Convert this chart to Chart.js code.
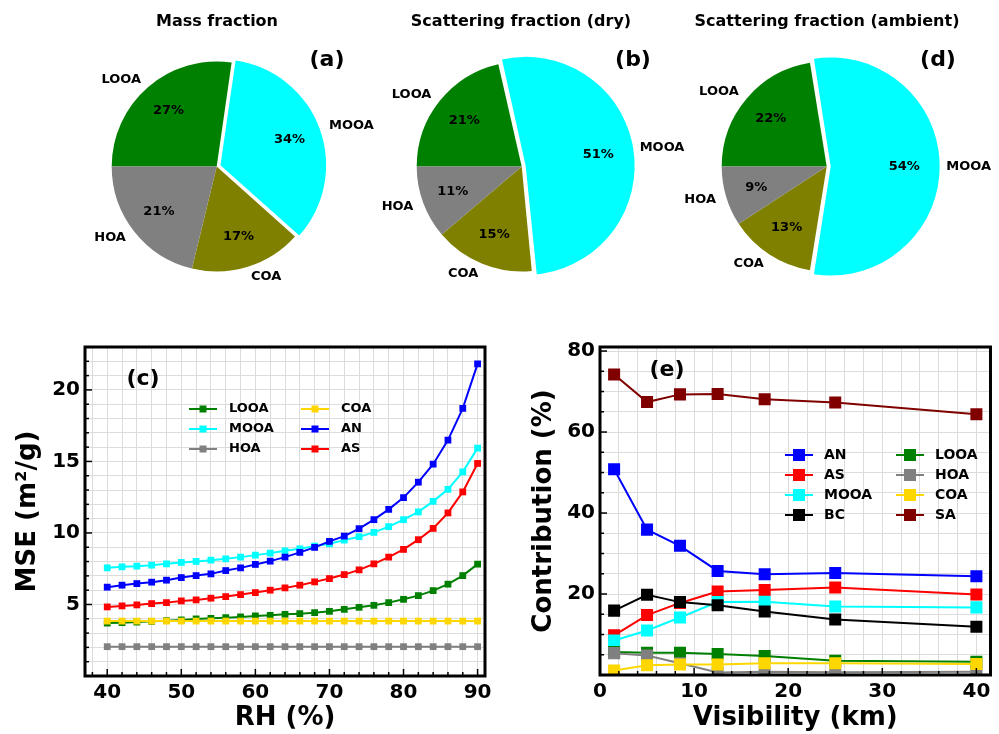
<!DOCTYPE html>
<html>
<head>
<meta charset="utf-8">
<script src="https://cdn.jsdelivr.net/npm/chart.js@4.4.1/dist/chart.umd.min.js"></script>
<style>
  body { margin: 0; background: #fff; }
  #wrap { position: relative; width: 999px; height: 734px; overflow: hidden; }
  canvas { position: absolute; }
</style>
</head>
<body>
<div id="wrap">
  <canvas id="pieA" style="left:0;top:0" width="999" height="300"></canvas>
  <canvas id="pieB" style="left:0;top:0" width="999" height="300"></canvas>
  <canvas id="pieD" style="left:0;top:0" width="999" height="300"></canvas>
  <canvas id="mse" style="left:0;top:330px" width="500" height="404"></canvas>
  <canvas id="contrib" style="left:510px;top:330px" width="489" height="404"></canvas>
</div>
<script>
// pie data
const pieLabels = ['LOOA', 'MOOA', 'COA', 'HOA'];
const massFraction = [27, 34, 17, 21];
const scatDry = [21, 51, 15, 11];
const scatAmbient = [22, 54, 13, 9];

// (c) MSE vs RH
const rh = [40, 42, 44, 46, 48, 50, 52, 54, 56, 58, 60, 62, 64, 66, 68, 70, 72, 74, 76, 78, 80, 82, 84, 86, 88, 90];
const mseLOOA = [3.70, 3.73, 3.77, 3.82, 3.87, 3.92, 3.99, 4.03, 4.08, 4.13, 4.20, 4.24, 4.31, 4.36, 4.43, 4.52, 4.66, 4.80, 4.94, 5.13, 5.36, 5.62, 5.97, 6.42, 7.02, 7.82];
const mseMOOA = [7.56, 7.63, 7.68, 7.75, 7.84, 7.94, 8.01, 8.10, 8.19, 8.31, 8.45, 8.59, 8.75, 8.89, 9.08, 9.24, 9.50, 9.74, 10.04, 10.44, 10.93, 11.47, 12.21, 13.05, 14.27, 15.93];
const mseHOA = [2.05, 2.05, 2.05, 2.05, 2.05, 2.05, 2.05, 2.05, 2.05, 2.05, 2.05, 2.05, 2.05, 2.05, 2.05, 2.05, 2.05, 2.05, 2.05, 2.05, 2.05, 2.05, 2.05, 2.05, 2.05, 2.05];
const mseCOA = [3.84, 3.84, 3.84, 3.84, 3.84, 3.84, 3.84, 3.84, 3.84, 3.84, 3.84, 3.84, 3.84, 3.84, 3.84, 3.84, 3.84, 3.84, 3.84, 3.84, 3.84, 3.84, 3.84, 3.84, 3.84, 3.84];
const mseAN = [6.21, 6.35, 6.46, 6.56, 6.70, 6.88, 7.02, 7.14, 7.37, 7.56, 7.80, 8.03, 8.31, 8.64, 8.99, 9.41, 9.78, 10.30, 10.93, 11.65, 12.47, 13.55, 14.81, 16.49, 18.71, 21.82];
const mseAS = [4.83, 4.90, 4.97, 5.06, 5.13, 5.25, 5.32, 5.44, 5.55, 5.69, 5.83, 6.00, 6.16, 6.35, 6.58, 6.81, 7.09, 7.42, 7.84, 8.31, 8.85, 9.53, 10.32, 11.40, 12.87, 14.86];

// (e) contribution vs visibility
const visibility = [1.5, 5, 8.5, 12.5, 17.5, 25, 40];
const conAN = [50.8, 35.9, 31.9, 25.7, 24.9, 25.2, 24.4];
const conAS = [9.8, 14.8, 17.8, 20.6, 21.0, 21.6, 19.9];
const conMOOA = [8.5, 11.0, 14.2, 18.0, 18.1, 16.9, 16.7];
const conBC = [15.9, 19.8, 18.0, 17.2, 15.7, 13.7, 11.9];
const conLOOA = [5.7, 5.5, 5.5, 5.2, 4.7, 3.5, 3.3];
const conHOA = [5.4, 4.8, 2.9, 0.6, 0.8, 0.7, 0.8];
const conCOA = [1.1, 2.4, 2.6, 2.6, 2.9, 2.9, 2.7];
const conSA = [74.2, 67.4, 69.3, 69.4, 68.1, 67.3, 64.4];

const FONT = '"DejaVu Sans", sans-serif';
const pieColors = ['#008000', '#00ffff', '#808000', '#808080'];

// labels outside and percentages inside the wedges, plus the panel title
const pieText = {
    id: 'pieText',
    afterDatasetsDraw(chart, args, opts) {
        const ctx = chart.ctx;
        const ds = chart.data.datasets[0];
        ctx.save();
        ctx.fillStyle = '#000';
        ctx.textBaseline = 'middle';
        chart.getDatasetMeta(0).data.forEach((arc, i) => {
            const mid = (arc.startAngle + arc.endAngle) / 2;
            const off = (ds.offset[i] || 0) / 4;
            const cx = arc.x + Math.cos(mid) * off;
            const cy = arc.y + Math.sin(mid) * off;
            const r = arc.outerRadius;
            ctx.font = 'bold 13px ' + FONT;
            ctx.textAlign = 'center';
            ctx.fillText(ds.data[i] + '%', cx + Math.cos(mid) * r * 0.7, cy + Math.sin(mid) * r * 0.7);
            ctx.textAlign = Math.cos(mid) >= 0 ? 'left' : 'right';
            ctx.fillText(chart.data.labels[i], cx + Math.cos(mid) * r * 1.1, cy + Math.sin(mid) * r * 1.1);
        });
        ctx.textAlign = 'center';
        ctx.font = 'bold 16px ' + FONT;
        ctx.fillText(opts.title, opts.titleX, 22);
        ctx.font = 'bold 22px ' + FONT;
        ctx.fillText(opts.tag, opts.tagX, 60);
        ctx.restore();
    }
};

function makePie(id, values, padding, title, titleX, tag, tagX) {
    new Chart(document.getElementById(id), {
        type: 'pie',
        data: {
            labels: pieLabels,
            datasets: [{
                data: values,
                backgroundColor: pieColors,
                borderWidth: 0,
                offset: [0, 16, 0, 0]
            }]
        },
        options: {
            responsive: false,
            animation: false,
            events: [],
            radius: 105,
            rotation: 270,
            layout: { padding: padding },
            plugins: {
                legend: { display: false },
                tooltip: { enabled: false },
                pieText: { title: title, titleX: titleX, tag: tag, tagX: tagX }
            }
        },
        plugins: [pieText]
    });
}

makePie('pieA', massFraction, { left: 0, right: 565.6, top: 33, bottom: 0 }, 'Mass fraction', 217, '(a)', 327);
makePie('pieB', scatDry, { left: 44.4, right: 0, top: 33, bottom: 0 }, 'Scattering fraction (dry)', 521, '(b)', 633);
makePie('pieD', scatAmbient, { left: 654.4, right: 0, top: 33, bottom: 0 }, 'Scattering fraction (ambient)', 827, '(d)', 938);

// frame, inward ticks, panel letter and two-column legend
const frameTicks = {
    id: 'frameTicks',
    afterDraw(chart, args, opts) {
        const { ctx, chartArea: a, scales: { x, y } } = chart;
        ctx.save();
        ctx.strokeStyle = '#000';
        ctx.lineWidth = 1.5;
        x.ticks.forEach(t => {
            const px = x.getPixelForValue(t.value);
            const len = t.value % opts.xMajor === 0 ? 7 : 4;
            ctx.beginPath();
            ctx.moveTo(px, a.bottom);
            ctx.lineTo(px, a.bottom - len);
            ctx.stroke();
        });
        y.ticks.forEach(t => {
            const py = y.getPixelForValue(t.value);
            const len = t.value % opts.yMajor === 0 ? 7 : 4;
            ctx.beginPath();
            ctx.moveTo(a.left, py);
            ctx.lineTo(a.left + len, py);
            ctx.stroke();
        });
        ctx.lineWidth = 3;
        ctx.strokeRect(a.left, a.top, a.right - a.left, a.bottom - a.top);

        ctx.fillStyle = '#000';
        ctx.textBaseline = 'middle';
        ctx.textAlign = 'center';
        ctx.font = 'bold 22px ' + FONT;
        ctx.fillText(opts.tag, a.left + opts.tagX, a.top + opts.tagY);

        const lg = opts.legend;
        ctx.font = 'bold ' + lg.fontSize + 'px ' + FONT;
        ctx.textAlign = 'left';
        chart.data.datasets.forEach((ds, i) => {
            const col = Math.floor(i / lg.rows);
            const row = i % lg.rows;
            const lx = a.left + lg.x + col * lg.colStep;
            const ly = a.top + lg.y + row * lg.rowStep;
            ctx.strokeStyle = ds.borderColor;
            ctx.lineWidth = 2;
            ctx.beginPath();
            ctx.moveTo(lx, ly);
            ctx.lineTo(lx + lg.lineLen, ly);
            ctx.stroke();
            ctx.fillStyle = ds.backgroundColor;
            ctx.fillRect(lx + lg.lineLen / 2 - lg.marker / 2, ly - lg.marker / 2, lg.marker, lg.marker);
            ctx.fillStyle = '#000';
            ctx.fillText(ds.label, lx + lg.textOff, ly);
        });
        ctx.restore();
    }
};

function series(label, xs, ys, color, idx, n, radius) {
    return {
        label: label,
        data: xs.map((v, i) => ({ x: v, y: ys[i] })),
        borderColor: color,
        backgroundColor: color,
        pointBackgroundColor: color,
        pointBorderWidth: 0,
        pointStyle: 'rect',
        pointRadius: radius,
        borderWidth: 2,
        tension: 0,
        order: n - idx
    };
}

function axis(min, max, step, labelEvery, width, height, title, titlePad) {
    const o = {
        type: 'linear',
        min: min,
        max: max,
        border: { display: false },
        grid: { color: '#dcdcdc', lineWidth: 1, drawTicks: false },
        afterBuildTicks: s => {
            const ticks = [];
            for (let k = Math.ceil(min / step); k * step <= max + 1e-9; k++) ticks.push({ value: k * step });
            s.ticks = ticks;
        },
        ticks: {
            autoSkip: false,
            maxRotation: 0,
            padding: 5,
            color: '#000',
            font: { family: FONT, size: 20, weight: 'bold' },
            callback: v => (Math.abs(v % labelEvery) < 1e-6 && !(width && v === 0)) ? String(v) : ''
        },
        title: {
            display: true,
            text: title,
            color: '#000',
            font: { family: FONT, size: 26, weight: 'bold' },
            padding: titlePad
        }
    };
    if (width) o.afterFit = s => { s.width = width; };
    if (height) o.afterFit = s => { s.height = height; };
    return o;
}

const mseSets = [
    series('LOOA', rh, mseLOOA, '#008000', 0, 6, 4.8),
    series('MOOA', rh, mseMOOA, '#00ffff', 1, 6, 4.8),
    series('HOA', rh, mseHOA, '#808080', 2, 6, 4.8),
    series('COA', rh, mseCOA, '#ffd700', 3, 6, 4.8),
    series('AN', rh, mseAN, '#0000ff', 4, 6, 4.8),
    series('AS', rh, mseAS, '#ff0000', 5, 6, 4.8)
];

new Chart(document.getElementById('mse'), {
    type: 'line',
    data: { datasets: mseSets },
    options: {
        responsive: false,
        animation: false,
        events: [],
        layout: { padding: { top: 17, right: 15, left: 0, bottom: 0 } },
        scales: {
            x: axis(37, 91, 2, 10, 0, 58, 'RH (%)', { top: 0, bottom: 0 }),
            y: axis(0, 23, 1, 5, 85, 0, 'MSE (m²/g)', { top: 13, bottom: 0 })
        },
        plugins: {
            legend: { display: false },
            tooltip: { enabled: false },
            frameTicks: {
                xMajor: 10, yMajor: 5,
                tag: '(c)', tagX: 58, tagY: 32,
                legend: { x: 104, y: 62, rows: 3, colStep: 112, rowStep: 20, lineLen: 28, textOff: 40, marker: 7, fontSize: 13 }
            }
        }
    },
    plugins: [frameTicks]
});

const conSets = [
    series('AN', visibility, conAN, '#0000ff', 0, 8, 8.5),
    series('AS', visibility, conAS, '#ff0000', 1, 8, 8.5),
    series('MOOA', visibility, conMOOA, '#00ffff', 2, 8, 8.5),
    series('BC', visibility, conBC, '#000000', 3, 8, 8.5),
    series('LOOA', visibility, conLOOA, '#008000', 4, 8, 8.5),
    series('HOA', visibility, conHOA, '#808080', 5, 8, 8.5),
    series('COA', visibility, conCOA, '#ffd700', 6, 8, 8.5),
    series('SA', visibility, conSA, '#800000', 7, 8, 8.5)
];

new Chart(document.getElementById('contrib'), {
    type: 'line',
    data: { datasets: conSets },
    options: {
        responsive: false,
        animation: false,
        events: [],
        layout: { padding: { top: 17, right: 1, left: 0, bottom: 0 } },
        scales: {
            x: axis(0, 41.5, 2, 10, 0, 59, 'Visibility (km)', { top: 0, bottom: 0 }),
            y: axis(0, 81, 5, 20, 90, 0, 'Contribution (%)', { top: 19, bottom: 0 })
        },
        plugins: {
            legend: { display: false },
            tooltip: { enabled: false },
            frameTicks: {
                xMajor: 10, yMajor: 20,
                tag: '(e)', tagX: 67, tagY: 23,
                legend: { x: 185, y: 108, rows: 4, colStep: 111, rowStep: 20, lineLen: 28, textOff: 39, marker: 12, fontSize: 14 }
            }
        }
    },
    plugins: [frameTicks]
});
</script>
</body>
</html>
